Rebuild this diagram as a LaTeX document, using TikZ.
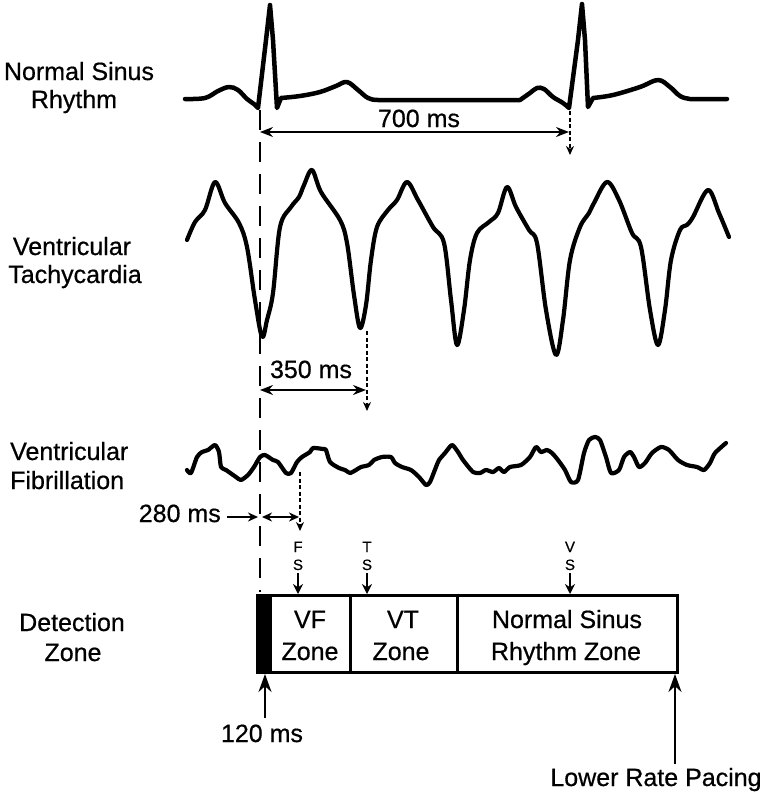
\documentclass[tikz,border=0pt]{standalone}
\usepackage{fontspec}
\setmainfont{Liberation Sans}[FakeBold=0.6]
\usetikzlibrary{arrows.meta}
\begin{document}
\begin{tikzpicture}[x=1pt,y=-1pt,
  ecg/.style={line width=4.5pt, line join=round, line cap=round},
  lbl/.style={font=\fontsize{25}{29}\selectfont, inner sep=0pt},
  tiny/.style={font=\fontsize{15}{17}\selectfont, inner sep=0pt},
  dimline/.style={line width=1.6pt, {Stealth[length=13pt,width=10pt]}-{Stealth[length=13pt,width=10pt]}},
  dimsmall/.style={line width=1.6pt, {Stealth[length=10pt,width=9pt]}-{Stealth[length=10pt,width=9pt]}},
  onearrow/.style={line width=1.6pt, -{Stealth[length=10pt,width=9pt]}},
  guide/.style={line width=2pt, dash pattern=on 20pt off 12pt},
  dotline/.style={line width=1.6pt, dash pattern=on 4pt off 2.5pt, -{Stealth[length=9pt,width=8pt]}},
  downarrow/.style={line width=1.8pt, -{Stealth[length=10pt,width=10pt]}},
  uparrow/.style={line width=2pt, -{Stealth[length=18pt,width=13pt]}},
  zoneline/.style={line width=3pt}
]
\useasboundingbox (0,0) rectangle (760,796);

% ---------- left labels ----------
\node[lbl,anchor=base] (nsrA) at (79,80) {Normal Sinus};
\node[lbl,anchor=base] (nsrB) at (74,108) {Rhythm};
\node[lbl,anchor=base] (vtA) at (72,255) {Ventricular};
\node[lbl,anchor=base] (vtB) at (75,283) {Tachycardia};
\node[lbl,anchor=base west] (vfA) at (10,460) {Ventricular};
\node[lbl,anchor=base west] (vfB) at (10,489) {Fibrillation};
\node[lbl,anchor=base] (dzA) at (72,631) {Detection};
\node[lbl,anchor=base] (dzB) at (73,661) {Zone};

% ---------- normal sinus rhythm ----------
\draw[ecg] plot[smooth,tension=.6] coordinates {(185,99)(205,98)(218,91)(229,87)(238,90)(247,99)(254,104)(258,108)}
  -- (266,40) -- (270,5) -- (273,40) -- (277,108) -- (281,98)
  -- plot[smooth,tension=.6] coordinates {(281,98)(300,96)(320,92)(336,86)(347,82)(358,90)(368,98)(378,100)(400,100)}
  -- (520,100)
  -- plot[smooth,tension=.6] coordinates {(520,100)(530,93)(537,88)(544,89)(553,97)(563,103)(569,108)}
  -- (578,40) -- (582,4) -- (585,40) -- (588,107) -- (593,98)
  -- plot[smooth,tension=.6] coordinates {(593,98)(613,95)(640,87)(658,80)(670,87)(680,96)(690,99)(700,99)}
  -- (727,99);

% ---------- ventricular tachycardia ----------
\draw[ecg,line width=4.2pt] plot[smooth,tension=.55] coordinates {(187,240)(195,222)(205,210)(215,182)(225,203)(239,223)(247,247)(255,300)(262,337)(267,320)(273,293)(280,227)(291,207)(299,197)(304,185)(312,170)(321,192)(340,220)(347,243)(354,295)(360,328)(366,305)(371,260)(377,227)(388,210)(397,200)(407,182)(418,200)(433,227)(444,243)(451,300)(457,345)(464,310)(470,260)(477,233)(489,222)(498,213)(507,187)(516,207)(529,230)(537,243)(546,310)(556,355)(563,320)(570,260)(580,227)(589,213)(594,203)(607,182)(619,200)(632,233)(641,247)(650,310)(658,345)(665,310)(671,260)(680,230)(687,225)(693,217)(708,190)(719,213)(729,237)};

% ---------- ventricular fibrillation ----------
\draw[ecg,line width=4.2pt] plot[smooth,tension=.4] coordinates {(187,470)(191,473)(197,457)(202,452)(208,450)(215,445)(219,452)(221,467)(226,470)(236,477)(241,480)(248,475)(254,467)(260,457)(265,455)(273,460)(278,462)(286,473)(291,473)(297,462)(302,457)(310,452)(313,448)(323,449)(326,450)(330,462)(339,468)(345,470)(350,473)(356,470)(361,467)(369,465)(374,460)(382,457)(391,457)(395,463)(402,467)(411,470)(419,477)(426,485)(430,482)(436,467)(439,460)(445,453)(452,445)(458,452)(463,460)(473,472)(480,473)(486,470)(493,472)(499,468)(504,472)(510,467)(521,465)(530,457)(536,447)(541,452)(547,450)(552,453)(558,460)(565,470)(571,482)(578,480)(584,453)(589,440)(595,437)(600,440)(606,457)(611,473)(619,470)(624,457)(630,452)(634,457)(639,467)(645,463)(652,453)(661,447)(669,450)(678,460)(687,465)(697,467)(704,470)(710,463)(715,453)(726,443)};

% ---------- guide line ----------
\coordinate (gTop) at (260,110);
\coordinate (gBot) at (260,592);
\draw[guide] (gTop) -- (gBot);

% ---------- 700 ms ----------
\coordinate (a7L) at (260,132);
\coordinate (a7R) at (569,132);
\draw[dimline] (a7L) -- (a7R);
\node[lbl,anchor=base] (t700) at (419,127) {700 ms};
\coordinate (d7T) at (570,111);
\coordinate (d7B) at (570,155);
\draw[dotline] (d7T) -- (d7B);

% ---------- 350 ms ----------
\coordinate (a3L) at (260,390);
\coordinate (a3R) at (366,390);
\draw[dimline] (a3L) -- (a3R);
\node[lbl,anchor=base] (t350) at (311,378) {350 ms};
\coordinate (d3T) at (367,331);
\coordinate (d3B) at (367,411);
\draw[dotline] (d3T) -- (d3B);

% ---------- 280 ms ----------
\node[lbl,anchor=base east] (t280) at (221,522) {280 ms};
\coordinate (a2S) at (227,517);
\coordinate (a2E) at (258,517);
\draw[onearrow] (a2S) -- (a2E);
\coordinate (a2L) at (262,517);
\coordinate (a2R) at (299,517);
\draw[dimsmall] (a2L) -- (a2R);
\coordinate (d2T) at (300,472);
\coordinate (d2B) at (300,531);
\draw[dotline] (d2T) -- (d2B);

% ---------- FS / TS / VS markers ----------
\node[tiny,anchor=base] (fF) at (298,552) {F};
\node[tiny,anchor=base] (fS) at (298,570) {S};
\node[tiny,anchor=base] (tT) at (367,552) {T};
\node[tiny,anchor=base] (tS) at (367,570) {S};
\node[tiny,anchor=base] (vV) at (570,552) {V};
\node[tiny,anchor=base] (vS) at (570,570) {S};
\coordinate (fsT) at (298,573);
\coordinate (fsB) at (298,594);
\coordinate (tsT) at (367,573);
\coordinate (tsB) at (367,594);
\coordinate (vsT) at (570,573);
\coordinate (vsB) at (570,594);
\draw[downarrow] (fsT) -- (fsB);
\draw[downarrow] (tsT) -- (tsB);
\draw[downarrow] (vsT) -- (vsB);

% ---------- detection zone box ----------
\fill (257,595) rectangle (272,672);
\draw[zoneline] (257,595) rectangle (677,672);
\draw[zoneline] (350,595) -- (350,672);
\draw[zoneline] (457,595) -- (457,672);
\node[lbl,anchor=base] (vfz1) at (310,628) {VF};
\node[lbl,anchor=base] (vfz2) at (310,660) {Zone};
\node[lbl,anchor=base] (vtz1) at (403,628) {VT};
\node[lbl,anchor=base] (vtz2) at (401,660) {Zone};
\node[lbl,anchor=base] (nsz1) at (567,628) {Normal Sinus};
\node[lbl,anchor=base] (nsz2) at (566,660) {Rhythm Zone};

% ---------- bottom arrows ----------
\node[lbl,anchor=base] (t120) at (262,742) {120 ms};
\coordinate (u1B) at (265,718);
\coordinate (u1T) at (265,674);
\draw[uparrow] (u1B) -- (u1T);
\node[lbl,anchor=base] (tlrp) at (656,786) {Lower Rate Pacing};
\coordinate (u2B) at (675,764);
\coordinate (u2T) at (675,674);
\draw[uparrow] (u2B) -- (u2T);
\end{tikzpicture}
\end{document}
